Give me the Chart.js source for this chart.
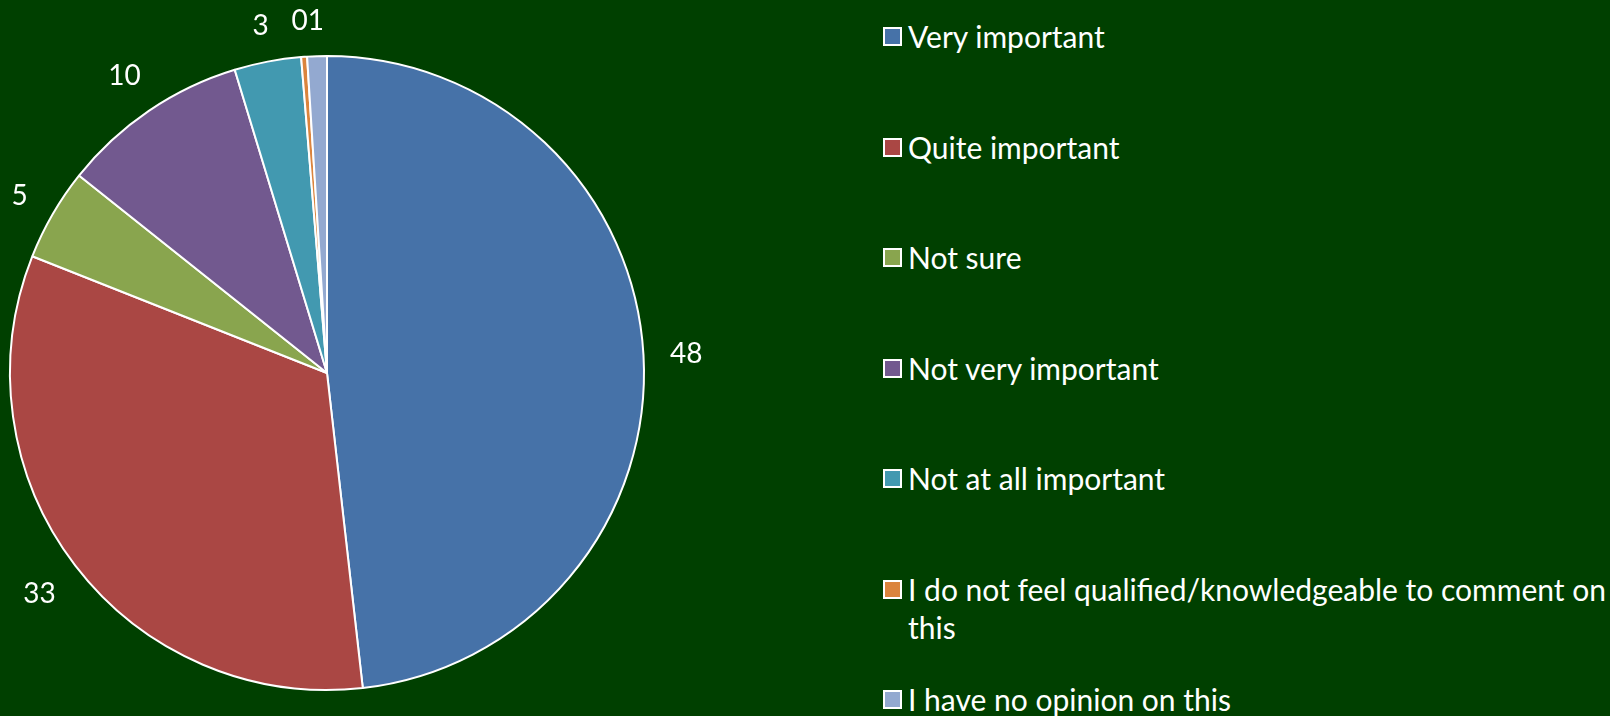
<!DOCTYPE html>
<html lang="en">
<head>
    <meta charset="UTF-8">
    <title>Importance survey</title>
    <script src="https://cdn.jsdelivr.net/npm/chart.js"></script>
    <style>
        html, body {
            margin: 0;
            padding: 0;
            width: 1610px;
            height: 716px;
            overflow: hidden;
            background: #004000;
            font-family: Lato, 'Open Sans', sans-serif;
            color: #fff;
        }
        #pie-wrap {
            position: absolute;
            left: 0;
            top: 0;
            width: 760px;
            height: 716px;
        }
        #legend {
            position: absolute;
            left: 883px;
            top: 0;
            width: 727px;
        }
        .legend-item {
            position: absolute;
            left: 0;
            width: 727px;
            display: flex;
            align-items: flex-start;
            font-size: 30px;
            line-height: 38px;
        }
        .legend-box {
            flex: none;
            width: 15px;
            height: 15px;
            border: 2px solid #fff;
            margin: 10px 6px 0 0;
        }
    </style>
</head>
<body>
    <div id="pie-wrap"><canvas id="pie"></canvas></div>
    <div id="legend"></div>

    <script>
        const answers = [
            'Very important',
            'Quite important',
            'Not sure',
            'Not very important',
            'Not at all important',
            'I do not feel qualified/knowledgeable to comment on this',
            'I have no opinion on this'
        ];
        // percent of respondents per answer
        const shares = [48.2, 32.8, 4.7, 9.6, 3.4, 0.3, 1.0];
        const sliceColors = ['#4672a8', '#aa4744', '#89a54e', '#72598f', '#4299b0', '#db843d', '#93a9d0'];

        const legendTop = 17;
        const legendStep = 110.5;
        const labelGap = 26;
        const labelFont = 28;

        // value labels outside each slice: the label box keeps a fixed gap
        // from the rim, then crowded labels get pushed left
        const sliceLabels = {
            id: 'sliceLabels',
            afterDatasetsDraw(chart) {
                const ctx = chart.ctx;
                const meta = chart.getDatasetMeta(0);
                const h = labelFont * 0.72;
                ctx.save();
                ctx.font = labelFont + 'px Lato, "Open Sans", sans-serif';
                ctx.fillStyle = '#fff';
                ctx.textAlign = 'center';
                ctx.textBaseline = 'alphabetic';
                const items = meta.data.map((arc, i) => {
                    const p = arc.getProps(['x', 'y', 'startAngle', 'endAngle', 'outerRadius'], true);
                    const mid = (p.startAngle + p.endAngle) / 2;
                    const text = String(Math.round(shares[i]));
                    const w = ctx.measureText(text).width;
                    const c = Math.cos(mid), s = Math.sin(mid);
                    const r = p.outerRadius + labelGap + Math.abs(c) * w / 2 + Math.abs(s) * h / 2;
                    return { text, w, x: p.x + c * r, y: p.y + s * r };
                });
                for (let i = items.length - 2; i >= 0; i--) {
                    const a = items[i], b = items[i + 1];
                    if (Math.abs(a.y - b.y) < h && a.x + a.w / 2 > b.x - b.w / 2) {
                        a.x = b.x - b.w / 2 - a.w / 2;
                    }
                }
                items.forEach(it => ctx.fillText(it.text, it.x, it.y + h / 2));
                ctx.restore();
            }
        };

        new Chart(document.getElementById('pie'), {
            type: 'pie',
            data: {
                labels: answers,
                datasets: [{
                    data: shares,
                    backgroundColor: sliceColors,
                    borderColor: '#ffffff',
                    borderWidth: 2
                }]
            },
            options: {
                responsive: true,
                maintainAspectRatio: false,
                animation: false,
                radius: 317,
                layout: { padding: { top: 30, bottom: 0, left: 0, right: 106 } },
                events: [],
                plugins: {
                    legend: { display: false },
                    tooltip: { enabled: false }
                }
            },
            plugins: [sliceLabels]
        });

        const legend = document.getElementById('legend');
        answers.forEach((name, i) => {
            const item = document.createElement('div');
            item.className = 'legend-item';
            item.style.top = (legendTop + i * legendStep) + 'px';
            const box = document.createElement('span');
            box.className = 'legend-box';
            box.style.background = sliceColors[i];
            const text = document.createElement('span');
            text.textContent = name;
            item.appendChild(box);
            item.appendChild(text);
            legend.appendChild(item);
        });
    </script>
</body>
</html>
